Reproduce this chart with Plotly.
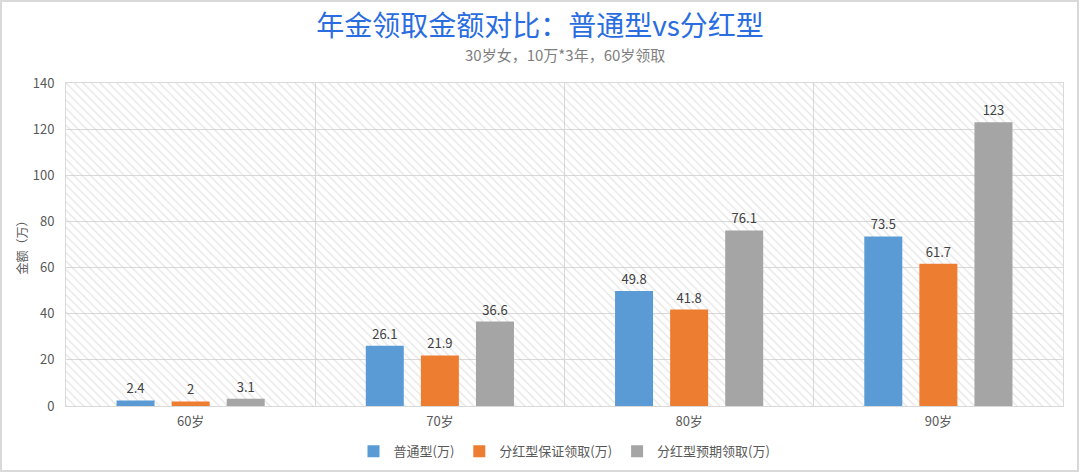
import plotly.graph_objects as go

# data
ages = ['60岁', '70岁', '80岁', '90岁']
normal = [2.4, 26.1, 49.8, 73.5]
bonus_guaranteed = [2, 21.9, 41.8, 61.7]
bonus_expected = [3.1, 36.6, 76.1, 123]

series_names = ['普通型(万)', '分红型保证领取(万)', '分红型预期领取(万)']
series_colors = ['#5b9bd5', '#ed7d31', '#a5a5a5']

font_cjk = 'Noto Sans CJK SC, Noto Sans, sans-serif'

fig = go.Figure()

# hatched background of the plot area (drawn on the base axes)
fig.add_trace(go.Bar(
    x=[1.5], y=[140], width=[4],
    marker=dict(color='rgba(0,0,0,0)', line=dict(width=0),
                pattern=dict(shape='\\', fgcolor='#cccccc', bgcolor='rgba(0,0,0,0)',
                             size=6, solidity=0.22, fillmode='overlay')),
    hoverinfo='skip', showlegend=False, xaxis='x', yaxis='y'))

# the real series go on the overlaid axes, so they sit above the hatch
for name, vals, col in zip(series_names, [normal, bonus_guaranteed, bonus_expected], series_colors):
    fig.add_trace(go.Bar(
        x=ages, y=vals, name=name,
        marker=dict(color=col, line=dict(width=0)),
        text=[str(v) for v in vals], textposition='outside', cliponaxis=False,
        textfont=dict(size=13, color='#404040', family=font_cjk),
        xaxis='x2', yaxis='y2'))

fig.update_layout(
    width=1080, height=473,
    margin=dict(l=66, r=17, t=83, b=67, autoexpand=False),
    paper_bgcolor='white', plot_bgcolor='white',
    barmode='group', bargap=0.337, bargroupgap=0.31,
    font=dict(family=font_cjk, color='#595959'),
    title=dict(text='年金领取金额对比：普通型vs分红型', x=0.5, xanchor='center',
               y=1 - 26 / 473, yanchor='middle',
               font=dict(size=28, color='#2a6de0', family=font_cjk)),
    xaxis=dict(range=[-0.5, 3.5], tickvals=[0.5, 1.5, 2.5], showticklabels=False,
               showgrid=True, gridcolor='#d9d9d9', gridwidth=1, zeroline=False,
               showline=True, linecolor='#d9d9d9', mirror=True, ticks='', automargin=False),
    yaxis=dict(range=[0, 140], dtick=20, showgrid=True, gridcolor='#d9d9d9', gridwidth=1,
               zeroline=False, showline=True, linecolor='#d9d9d9', mirror=True,
               tickfont=dict(size=13, color='#595959'), ticks='', ticklabelstandoff=8,
               automargin=False,
               title=dict(text='金额（万）', font=dict(size=12, color='#595959'), standoff=2)),
    xaxis2=dict(overlaying='x', range=[-0.5, 3.5], showgrid=False, zeroline=False,
                tickfont=dict(size=13, color='#595959'), ticks='', ticklabelstandoff=6,
                automargin=False),
    yaxis2=dict(overlaying='y', range=[0, 140], showgrid=False, zeroline=False,
                showticklabels=False, automargin=False),
    legend=dict(orientation='h', x=0.5, xanchor='center', y=-0.14, yanchor='middle',
                font=dict(size=13, color='#595959'), itemwidth=30,
                traceorder='normal'),
    showlegend=True,
)

fig.add_annotation(text='30岁女，10万*3年，60岁领取', xref='paper', yref='paper',
                   x=0.5, y=1.0 + 28 / 323, xanchor='center', yanchor='middle',
                   showarrow=False, font=dict(size=15, color='#7f7f7f', family=font_cjk))

# thin grey frame around the whole picture
pw, ph = 1080 - 66 - 17, 473 - 83 - 67
fig.add_shape(type='rect', xref='paper', yref='paper',
              x0=(1 - 66) / pw, x1=(1078 - 66) / pw,
              y0=-(471 - 406) / ph, y1=(406 - 1) / ph,
              line=dict(color='#d9d9d9', width=2), fillcolor='rgba(0,0,0,0)', layer='below')

# drop the default page margin so the figure sits at the window's corner
fig.write_html('out.html', config={'displayModeBar': False},
               post_script="document.body.style.margin='0';")
